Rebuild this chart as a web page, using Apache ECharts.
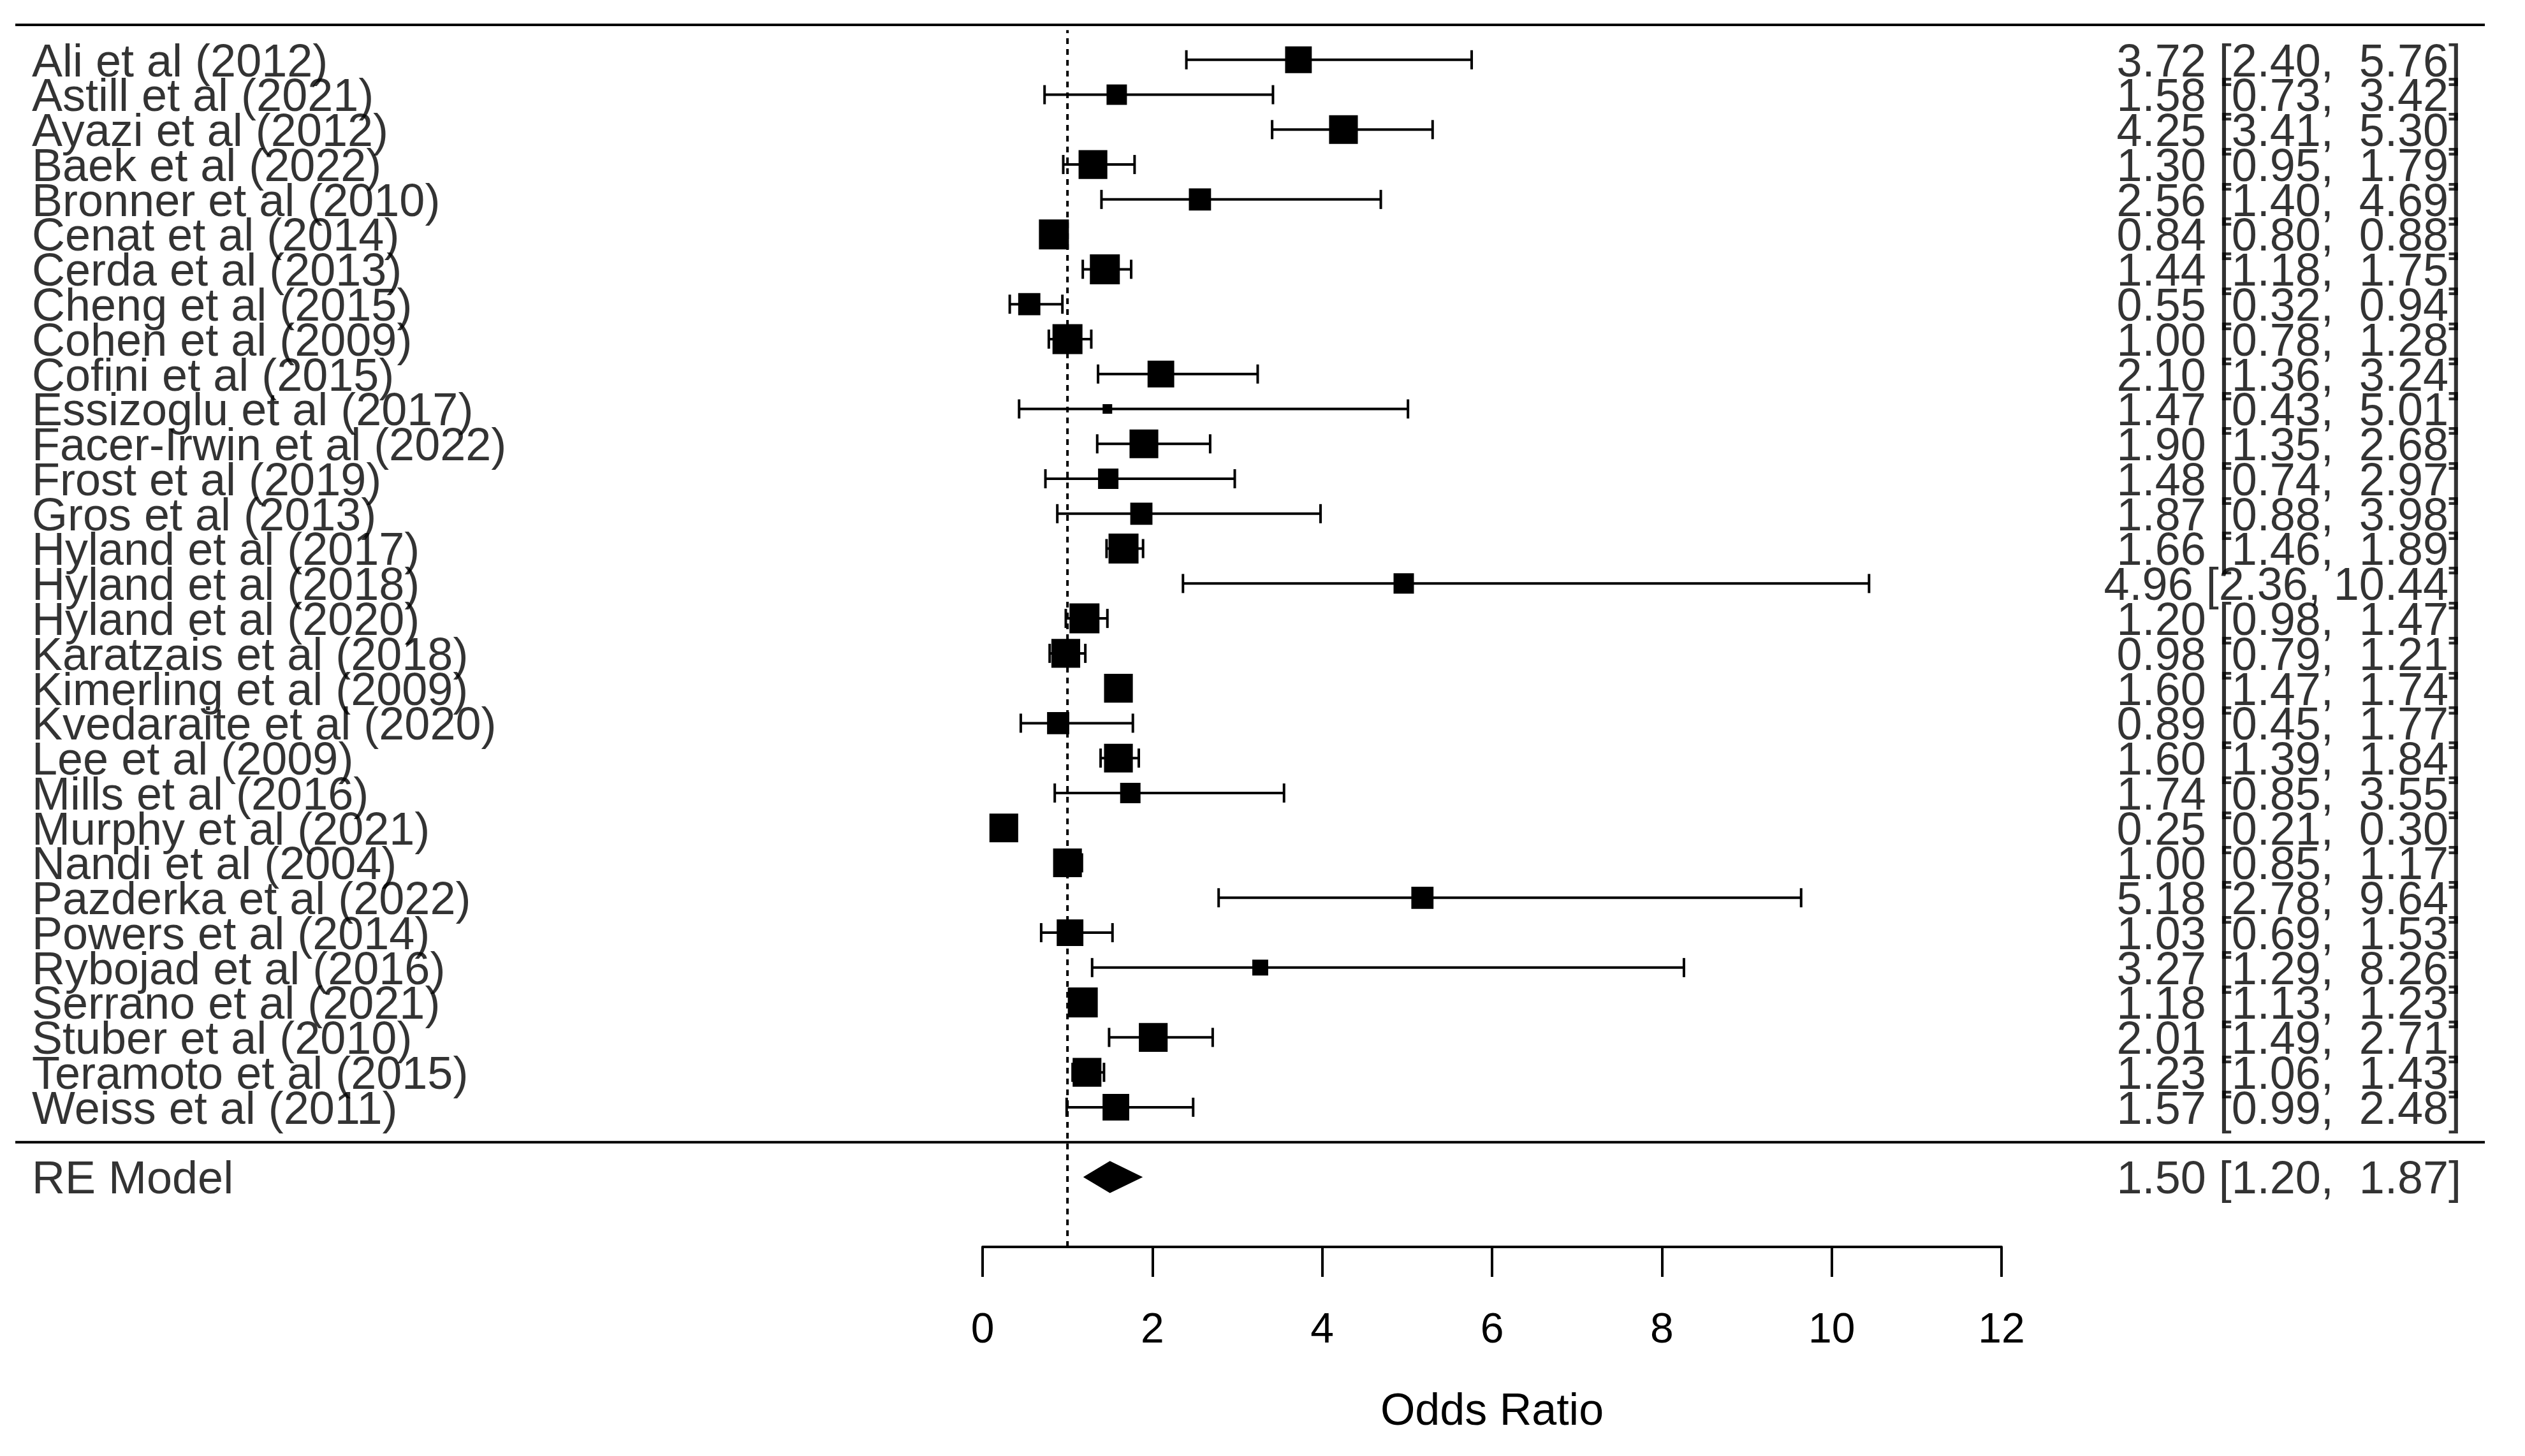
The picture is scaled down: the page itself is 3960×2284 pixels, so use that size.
<!DOCTYPE html>
<html>
<head>
<meta charset="utf-8">
<script src="https://cdn.jsdelivr.net/npm/echarts@6/dist/echarts.min.js"></script>
<style>
  html, body { margin: 0; padding: 0; background: #ffffff; }
  #chart { width: 3960px; height: 2284px; }
</style>
</head>
<body>
<div id="chart"></div>
<script>
// ---------------- data ----------------
const studies = [
  'Ali et al (2012)', 'Astill et al (2021)', 'Ayazi et al (2012)', 'Baek et al (2022)',
  'Bronner et al (2010)', 'Cenat et al (2014)', 'Cerda et al (2013)', 'Cheng et al (2015)',
  'Cohen et al (2009)', 'Cofini et al (2015)', 'Essizoglu et al (2017)', 'Facer-Irwin et al (2022)',
  'Frost et al (2019)', 'Gros et al (2013)', 'Hyland et al (2017)', 'Hyland et al (2018)',
  'Hyland et al (2020)', 'Karatzais et al (2018)', 'Kimerling et al (2009)', 'Kvedaraite et al (2020)',
  'Lee et al (2009)', 'Mills et al (2016)', 'Murphy et al (2021)', 'Nandi et al (2004)',
  'Pazderka et al (2022)', 'Powers et al (2014)', 'Rybojad et al (2016)', 'Serrano et al (2021)',
  'Stuber et al (2010)', 'Teramoto et al (2015)', 'Weiss et al (2011)'
];
const estimates = [3.72, 1.58, 4.25, 1.30, 2.56, 0.84, 1.44, 0.55, 1.00, 2.10, 1.47, 1.90, 1.48, 1.87, 1.66, 4.96,
                   1.20, 0.98, 1.60, 0.89, 1.60, 1.74, 0.25, 1.00, 5.18, 1.03, 3.27, 1.18, 2.01, 1.23, 1.57];
const lowerCI   = [2.40, 0.73, 3.41, 0.95, 1.40, 0.80, 1.18, 0.32, 0.78, 1.36, 0.43, 1.35, 0.74, 0.88, 1.46, 2.36,
                   0.98, 0.79, 1.47, 0.45, 1.39, 0.85, 0.21, 0.85, 2.78, 0.69, 1.29, 1.13, 1.49, 1.06, 0.99];
const upperCI   = [5.76, 3.42, 5.30, 1.79, 4.69, 0.88, 1.75, 0.94, 1.28, 3.24, 5.01, 2.68, 2.97, 3.98, 1.89, 10.44,
                   1.47, 1.21, 1.74, 1.77, 1.84, 3.55, 0.30, 1.17, 9.64, 1.53, 8.26, 1.23, 2.71, 1.43, 2.48];
// relative study weights (box size relative to the largest box)
const weights   = [0.89, 0.68, 0.96, 0.96, 0.74, 1.00, 1.00, 0.74, 1.00, 0.89, 0.32, 0.96, 0.68, 0.74, 1.00, 0.68,
                   1.00, 0.96, 0.96, 0.74, 0.96, 0.68, 0.96, 0.96, 0.74, 0.89, 0.53, 1.00, 0.96, 0.96, 0.89];
const pooledLabel = 'RE Model';
const pooledEst = 1.50;
const pooledLower = 1.20;
const pooledUpper = 1.87;
const refValue = 1;
const xMin = 0, xMax = 12, xStep = 2;
const xTitle = 'Odds Ratio';

// ---------------- layout / style ----------------
const W = 3960, H = 2284;
const FONT = '"Liberation Sans", Arial, Helvetica, sans-serif';
const MAX_BOX = 47;
const nRows = studies.length;
const topRow = nRows + 3;           // y of first study = 34
const yMax = topRow + 1;            // top rule
const plotLeft = 1541, plotRight = 3139;
const gridTop = 39, gridBottomPx = 1956;
const textLeftX = 50, textRightX = 3860;
const ruleLeftX = 24, ruleRightX = 3897;

const rowY = i => topRow - i;
const sepY = rowY(nRows - 1) - 1;
const pooledY = sepY - 1;

const f2 = v => v.toFixed(2);
const ciText = (e, l, u) => f2(e) + ' [' + f2(l) + ', ' + f2(u).padStart(5, ' ') + ']';

const errData = studies.map((s, i) => [lowerCI[i], upperCI[i], rowY(i)]);
const boxData = studies.map((s, i) => ({ value: [estimates[i], rowY(i)], symbolSize: weights[i] * MAX_BOX }));
const leftLabels = studies.map((s, i) => ({ value: [textLeftX, rowY(i)], name: s }));
leftLabels.push({ value: [textLeftX, pooledY], name: pooledLabel });
const rightLabels = studies.map((s, i) => ({ value: [textRightX, rowY(i)], name: ciText(estimates[i], lowerCI[i], upperCI[i]) }));
rightLabels.push({ value: [textRightX, pooledY], name: ciText(pooledEst, pooledLower, pooledUpper) });

const textStyle = { fontFamily: FONT, fontSize: 72, color: '#000', offset: [0, 6] };

const chart = echarts.init(document.getElementById('chart'), null, { renderer: 'canvas', width: W, height: H });

chart.setOption({
  animation: false,
  backgroundColor: '#ffffff',
  grid: [
    { left: plotLeft, right: W - plotRight, top: gridTop, bottom: H - gridBottomPx, containLabel: false },
    { left: 0, right: 0, top: gridTop, bottom: H - gridBottomPx, containLabel: false }
  ],
  xAxis: [
    {
      gridIndex: 0, type: 'value', min: xMin, max: xMax, interval: xStep,
      axisLine: { show: true, onZero: false, lineStyle: { color: '#000', width: 4 } },
      axisTick: { show: true, inside: false, length: 47, lineStyle: { color: '#000', width: 4 } },
      axisLabel: { show: true, margin: 99, fontFamily: FONT, fontSize: 66, color: '#000' },
      splitLine: { show: false },
      name: xTitle, nameLocation: 'middle', nameGap: 225,
      nameTextStyle: { fontFamily: FONT, fontSize: 70, color: '#000' }
    },
    { gridIndex: 1, type: 'value', min: 0, max: W, show: false }
  ],
  yAxis: [
    { gridIndex: 0, type: 'value', min: 0, max: yMax, show: false },
    { gridIndex: 1, type: 'value', min: 0, max: yMax, show: false }
  ],
  series: [
    // reference (null) line
    {
      type: 'line', xAxisIndex: 0, yAxisIndex: 0, z: 1,
      data: [[refValue, 0], [refValue, yMax - 0.15]],
      symbol: 'none', silent: true,
      lineStyle: { color: '#000', width: 4, type: [9, 8] }
    },
    // horizontal rules
    {
      type: 'line', xAxisIndex: 1, yAxisIndex: 1, z: 2,
      data: [[ruleLeftX, yMax], [ruleRightX, yMax]],
      symbol: 'none', silent: true, lineStyle: { color: '#000', width: 4 }
    },
    {
      type: 'line', xAxisIndex: 1, yAxisIndex: 1, z: 2,
      data: [[ruleLeftX, sepY], [ruleRightX, sepY]],
      symbol: 'none', silent: true, lineStyle: { color: '#000', width: 4 }
    },
    // confidence intervals
    {
      type: 'custom', xAxisIndex: 0, yAxisIndex: 0, z: 3, silent: true,
      data: errData,
      renderItem: function (params, api) {
        const a = api.coord([api.value(0), api.value(2)]);
        const b = api.coord([api.value(1), api.value(2)]);
        const cap = 15;
        const st = { stroke: '#000', lineWidth: 4 };
        return {
          type: 'group',
          children: [
            { type: 'line', shape: { x1: a[0], y1: a[1], x2: b[0], y2: b[1] }, style: st },
            { type: 'line', shape: { x1: a[0], y1: a[1] - cap, x2: a[0], y2: a[1] + cap }, style: st },
            { type: 'line', shape: { x1: b[0], y1: b[1] - cap, x2: b[0], y2: b[1] + cap }, style: st }
          ]
        };
      }
    },
    // study boxes
    {
      type: 'scatter', xAxisIndex: 0, yAxisIndex: 0, z: 4, silent: true,
      symbol: 'rect', data: boxData,
      itemStyle: { color: '#000', opacity: 1 }
    },
    // pooled diamond
    {
      type: 'custom', xAxisIndex: 0, yAxisIndex: 0, z: 4, silent: true,
      data: [[pooledLower, pooledEst, pooledUpper, pooledY]],
      renderItem: function (params, api) {
        const l = api.coord([api.value(0), api.value(3)]);
        const m = api.coord([api.value(1), api.value(3)]);
        const u = api.coord([api.value(2), api.value(3)]);
        const h = 24;
        return {
          type: 'polygon',
          shape: { points: [[l[0], l[1]], [m[0], m[1] - h], [u[0], u[1]], [m[0], m[1] + h]] },
          style: { fill: '#000', stroke: '#000', lineWidth: 2 }
        };
      }
    },
    // study labels (left)
    {
      type: 'scatter', xAxisIndex: 1, yAxisIndex: 1, z: 5, silent: true,
      symbolSize: 0, data: leftLabels,
      label: Object.assign({ show: true, position: 'right', distance: 0, formatter: '{b}' }, textStyle)
    },
    // estimates text (right)
    {
      type: 'scatter', xAxisIndex: 1, yAxisIndex: 1, z: 5, silent: true,
      symbolSize: 0, data: rightLabels,
      label: Object.assign({ show: true, position: 'left', distance: 0, formatter: '{b}' }, textStyle)
    }
  ]
});
</script>
</body>
</html>
